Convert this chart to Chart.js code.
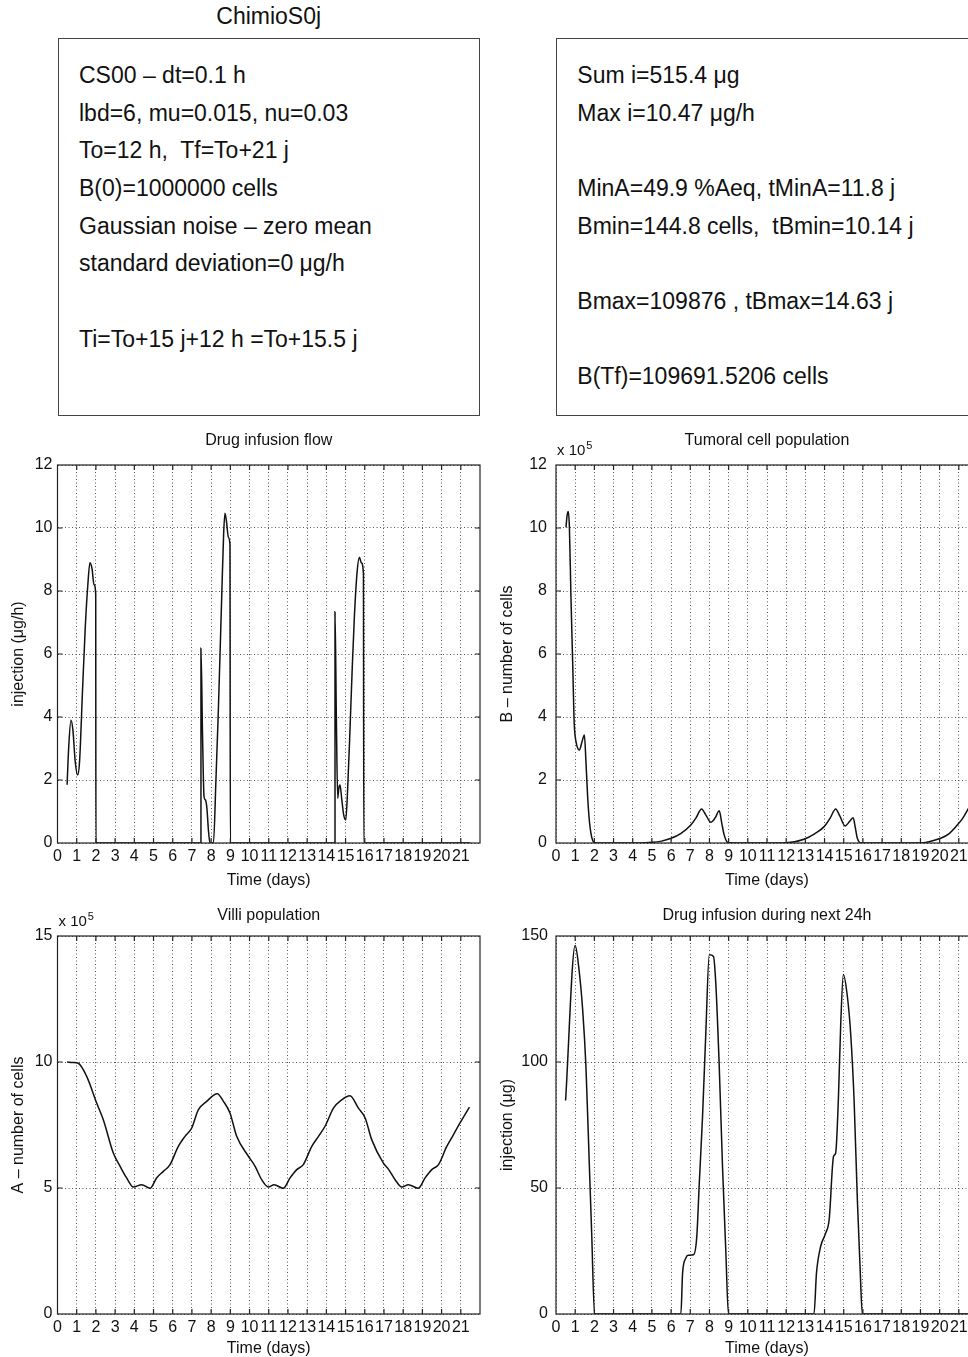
<!DOCTYPE html>
<html>
<head>
<meta charset="utf-8">
<script src="https://cdn.jsdelivr.net/npm/chart.js@4.4.0/dist/chart.umd.min.js"></script>
<style>
  html, body { margin: 0; padding: 0; background: #fff; }
  body { width: 968px; height: 1357px; overflow: hidden; position: relative;
         font-family: "Liberation Sans", Arial, Helvetica, sans-serif; color: #111; }
  .txt { position: absolute; font-size: 23px; line-height: 23px; white-space: pre; }
  .box { position: absolute; border: 1px solid #444; box-sizing: border-box; }
  canvas { position: absolute; }
</style>
</head>
<body>
<script>
// ---- data ----
const dayTicks = [0, 1, 2, 3, 4, 5, 6, 7, 8, 9, 10, 11, 12, 13, 14, 15, 16, 17, 18, 19, 20, 21]

// drug infusion flow (µg/h)
const flowDays = [0.5, 0.58, 0.7, 0.8, 0.92, 1.05, 1.15, 1.3, 1.45, 1.58, 1.69, 1.8, 1.9, 1.99, 2.0,
  7.47, 7.47, 7.55, 7.63, 7.7, 7.78, 7.86, 7.94, 8.12, 8.25, 8.37, 8.55, 8.65, 8.72, 8.8, 8.9, 8.98, 9.0,
  14.45, 14.45, 14.52, 14.59, 14.65, 14.71, 14.8, 14.9, 15.01, 15.1, 15.23, 15.35, 15.46, 15.6, 15.72, 15.82, 15.93, 15.95, 21.5]
const flowValues = [1.85, 3.0, 3.9, 3.6, 2.6, 2.16, 2.6, 4.8, 6.9, 8.2, 8.9, 8.7, 8.2, 7.9, 0,
  0, 6.18, 3.5, 1.47, 1.37, 1.1, 0.4, 0, 0, 2.0, 4.1, 7.8, 9.8, 10.47, 10.2, 9.7, 9.46, 0,
  0, 7.34, 4.0, 1.42, 1.75, 1.84, 1.4, 0.9, 0.73, 1.6, 3.6, 5.6, 7.2, 8.6, 9.07, 8.9, 8.56, 0, 0]
const flowTicks = [0, 2, 4, 6, 8, 10, 12]

// tumoral cell population (cells)
const tumorDays = [0.52, 0.58, 0.64, 0.7, 0.78, 0.87, 0.95, 1.05, 1.22, 1.35, 1.48, 1.56, 1.65, 1.74, 1.82, 1.9, 2.0,
  3.0, 4.4, 5.0, 5.5, 6.0, 6.5, 7.03, 7.3, 7.59, 7.8, 8.07, 8.3, 8.51, 8.65, 8.77, 8.9, 9.0,
  11.0, 12.0, 12.93, 13.5, 13.98, 14.3, 14.58, 14.8, 15.07, 15.3, 15.49, 15.6, 15.71, 15.9,
  19.0, 19.5, 20.05, 20.5, 20.92, 21.2, 21.5]
const tumorCells = [1002000, 1040000, 1052000, 1000000, 780000, 570000, 380000, 320000, 295000, 320000, 343000, 260000, 147000, 70000, 31000, 10000, 1000,
  0, 0, 2000, 6000, 15000, 30000, 57000, 80000, 108000, 90000, 66000, 80000, 102000, 60000, 25000, 5000, 1000,
  0, 1000, 12000, 30000, 52000, 80000, 108000, 85000, 54000, 68000, 80000, 50000, 15000, 0,
  0, 5000, 15000, 30000, 57000, 78000, 109700]
const tumorTicks = [0, 200000, 400000, 600000, 800000, 1000000, 1200000]

// villi population (cells)
const villiDays = [0.5, 0.8, 1.08, 1.52, 2.04, 2.39, 2.9, 3.26, 3.6, 3.95, 4.38, 4.82, 5.16, 5.51, 5.86, 6.29, 6.64, 6.99,
  7.33, 7.77, 8.32, 8.64, 8.98, 9.33, 9.94, 10.29, 10.63, 10.98, 11.28, 11.76, 12.11, 12.46, 12.8, 13.24, 13.59, 13.93,
  14.37, 14.8, 15.23, 15.67, 16.02, 16.36, 16.97, 17.23, 17.58, 17.93, 18.27, 18.79, 19.14, 19.49, 19.84, 20.27, 20.62, 20.96, 21.45]
const villiCells = [1000000, 998000, 995000, 943000, 837000, 770000, 640000, 586000, 540000, 504000, 513000, 499000, 540000, 566000, 593000, 665000, 705000, 738000,
  810000, 844000, 874000, 844000, 798000, 705000, 626000, 586000, 533000, 504000, 513000, 499000, 540000, 573000, 593000, 665000, 705000, 745000,
  817000, 850000, 866000, 817000, 778000, 692000, 599000, 575000, 533000, 504000, 513000, 499000, 540000, 573000, 593000, 665000, 712000, 758000, 821000]
const villiTicks = [0, 500000, 1000000, 1500000]

// drug infusion during next 24h (µg)
const doseDays = [0.5, 1.0, 1.18, 1.39, 1.56, 1.74, 1.86, 2.01,
  6.51, 6.6, 6.77, 6.89, 7.17, 7.34, 7.47, 7.64, 7.81, 7.99, 8.21, 8.33, 8.51, 8.68, 8.85, 8.99,
  13.45, 13.58, 13.8, 14.06, 14.24, 14.47, 14.58, 14.72, 14.84, 14.98, 15.19, 15.36, 15.54, 15.71, 15.85, 15.97, 21.5]
const doseValues = [84.7, 146.2, 138, 120.8, 98.3, 58.6, 32.1, 0,
  0, 16.3, 22.2, 23.3, 23.5, 30.8, 52, 78.4, 111.5, 142.6, 141.9, 131.3, 98.3, 58.6, 25.5, 0,
  0, 16.3, 26.9, 32.1, 37.4, 62.6, 63.9, 85, 114.2, 134.7, 126, 111.5, 85, 45.4, 18.9, 0, 0]
const doseTicks = [0, 50, 100, 150]

// text panels
const figTitle = 'ChimioS0j'
const leftLines = [[0, 'CS00 – dt=0.1 h'], [1, 'lbd=6, mu=0.015, nu=0.03'], [2, 'To=12 h,  Tf=To+21 j'],
  [3, 'B(0)=1000000 cells'], [4, 'Gaussian noise – zero mean'], [5, 'standard deviation=0 μg/h'],
  [7, 'Ti=To+15 j+12 h =To+15.5 j']]
const rightLines = [[0, 'Sum i=515.4 μg'], [1, 'Max i=10.47 μg/h'], [3, 'MinA=49.9 %Aeq, tMinA=11.8 j'],
  [4, 'Bmin=144.8 cells,  tBmin=10.14 j'], [6, 'Bmax=109876 , tBmax=14.63 j'], [8, 'B(Tf)=109691.5206 cells']]

// ---- text part ----
const FONT = '"Liberation Sans", Arial, Helvetica, sans-serif'
const BASE = 19.5   // baseline offset inside a 23px line box

function addDiv(cls, left, top, text, w, h) {
  const d = document.createElement('div')
  d.className = cls
  d.style.left = left + 'px'
  d.style.top = top + 'px'
  if (w) d.style.width = w + 'px'
  if (h) d.style.height = h + 'px'
  if (text) d.textContent = text
  document.body.appendChild(d)
  return d
}

const t = addDiv('txt', 268.7, 24 - BASE, figTitle)
t.style.transform = 'translateX(-50%)'

addDiv('box', 57.5, 37.7, '', 422, 378.5)
addDiv('box', 555.7, 37.7, '', 430, 378.5)
// baseline of line k = 83.3 + 37.7 k
leftLines.forEach(([k, s]) => addDiv('txt', 79, 83.3 + 37.7 * k - BASE, s))
rightLines.forEach(([k, s]) => addDiv('txt', 577.3, 83.3 + 37.7 * k - BASE, s))

// ---- charts ----
const framePlugin = {
  id: 'frame',
  afterDatasetsDraw(chart, args, opts) {
    const {ctx, chartArea: a, scales} = chart
    ctx.save()
    ctx.strokeStyle = '#222'
    ctx.lineWidth = 1.2
    ctx.strokeRect(a.left, a.top, a.right - a.left, a.bottom - a.top)
    ctx.beginPath()
    scales.x.ticks.forEach(tk => {
      const px = scales.x.getPixelForValue(tk.value)
      if (px <= a.left + 1 || px >= a.right - 1) return
      ctx.moveTo(px, a.bottom); ctx.lineTo(px, a.bottom - 5)
      ctx.moveTo(px, a.top); ctx.lineTo(px, a.top + 5)
    })
    scales.y.ticks.forEach(tk => {
      const py = scales.y.getPixelForValue(tk.value)
      if (py <= a.top + 1 || py >= a.bottom - 1) return
      ctx.moveTo(a.left, py); ctx.lineTo(a.left + 5, py)
      ctx.moveTo(a.right, py); ctx.lineTo(a.right - 5, py)
    })
    ctx.stroke()
    if (opts.exp) {
      ctx.fillStyle = '#111'
      ctx.textBaseline = 'alphabetic'
      ctx.textAlign = 'left'
      ctx.font = '15px ' + FONT
      ctx.fillText('x 10', a.left + 1, a.top - 10)
      const w = ctx.measureText('x 10').width
      ctx.font = '11px ' + FONT
      ctx.fillText(opts.exp, a.left + 2 + w, a.top - 16.5)
    }
    ctx.restore()
  }
}

function makeChart(rect, days, vals, o) {
  const c = document.createElement('canvas')
  const cl = Math.floor(rect.l) - 60
  const ct = rect.t - 40
  c.width = Math.ceil(rect.r - cl) + 10
  c.height = (rect.b - rect.t) + 100
  c.style.left = cl + 'px'
  c.style.top = ct + 'px'
  document.body.appendChild(c)
  const yw = rect.l - cl
  return new Chart(c, {
    type: 'line',
    data: {
      datasets: [{
        data: days.map((d, i) => ({x: d, y: vals[i]})),
        borderColor: '#111',
        borderWidth: 1.5,
        pointRadius: 0,
        cubicInterpolationMode: 'monotone',
        fill: false
      }]
    },
    options: {
      responsive: false,
      animation: false,
      devicePixelRatio: 1,
      layout: {padding: {top: o.titleTop, right: 10, bottom: 0, left: 0}},
      plugins: {
        legend: {display: false},
        tooltip: {enabled: false},
        title: {
          display: true, text: o.title, fullSize: false, color: '#111',
          font: {size: 16, family: FONT, weight: 'normal', lineHeight: 1.2},
          padding: {top: 0, bottom: 40 - o.titleTop - 19.2}
        },
        frame: {exp: o.exp}
      },
      scales: {
        x: {
          type: 'linear', min: 0, max: 22,
          afterBuildTicks: s => { s.ticks = dayTicks.map(v => ({value: v})) },
          afterFit: s => { s.height = 60 },
          grid: {color: '#555', lineWidth: 1, drawTicks: false},
          border: {display: false, dash: [1, 2.5]},
          ticks: {padding: 4, autoSkip: false, maxRotation: 0, minRotation: 0, color: '#111',
            font: {size: 16, family: FONT}},
          title: {display: true, text: 'Time (days)', color: '#111',
            font: {size: 16, family: FONT}, padding: {top: 0, bottom: o.xTitlePad}}
        },
        y: {
          type: 'linear', min: o.yTicks[0], max: o.yTicks[o.yTicks.length - 1],
          afterBuildTicks: s => { s.ticks = o.yTicks.map(v => ({value: v})) },
          afterFit: s => { s.width = yw },
          grid: {color: '#555', lineWidth: 1, drawTicks: false},
          border: {display: false, dash: [1, 2.5]},
          ticks: {padding: o.yPad, color: '#111', font: {size: 16, family: FONT},
            callback: v => String(v / o.scale)},
          title: {display: true, text: o.yTitle, color: '#111',
            font: {size: 16, family: FONT}, padding: {top: o.yTitleX - 9.6, bottom: 0}}
        }
      }
    },
    plugins: [framePlugin]
  })
}

window.addEventListener('load', () => {
  // y-title x positions are given relative to the canvas left edge
  makeChart({l: 57.5, r: 479.5, t: 465, b: 843}, flowDays, flowValues,
    {title: 'Drug infusion flow', yTicks: flowTicks, scale: 1, yTitle: 'injection (μg/h)',
     titleTop: 6, xTitlePad: 12.4, yPad: 5, yTitleX: 21.5})
  makeChart({l: 556, r: 978, t: 465, b: 843}, tumorDays, tumorCells,
    {title: 'Tumoral cell population', yTicks: tumorTicks, scale: 1e5, yTitle: 'B – number of cells',
     titleTop: 6, xTitlePad: 12.4, yPad: 9, yTitleX: 12, exp: '5'})
  makeChart({l: 57.5, r: 479.5, t: 936, b: 1314}, villiDays, villiCells,
    {title: 'Villi population', yTicks: villiTicks, scale: 1e5, yTitle: 'A – number of cells',
     titleTop: 9.6, xTitlePad: 15.7, yPad: 5, yTitleX: 22, exp: '5'})
  makeChart({l: 556, r: 978, t: 936, b: 1314}, doseDays, doseValues,
    {title: 'Drug infusion during next 24h', yTicks: doseTicks, scale: 1, yTitle: 'injection (μg)',
     titleTop: 9.6, xTitlePad: 15.7, yPad: 8, yTitleX: 12})
})
</script>
</body>
</html>
